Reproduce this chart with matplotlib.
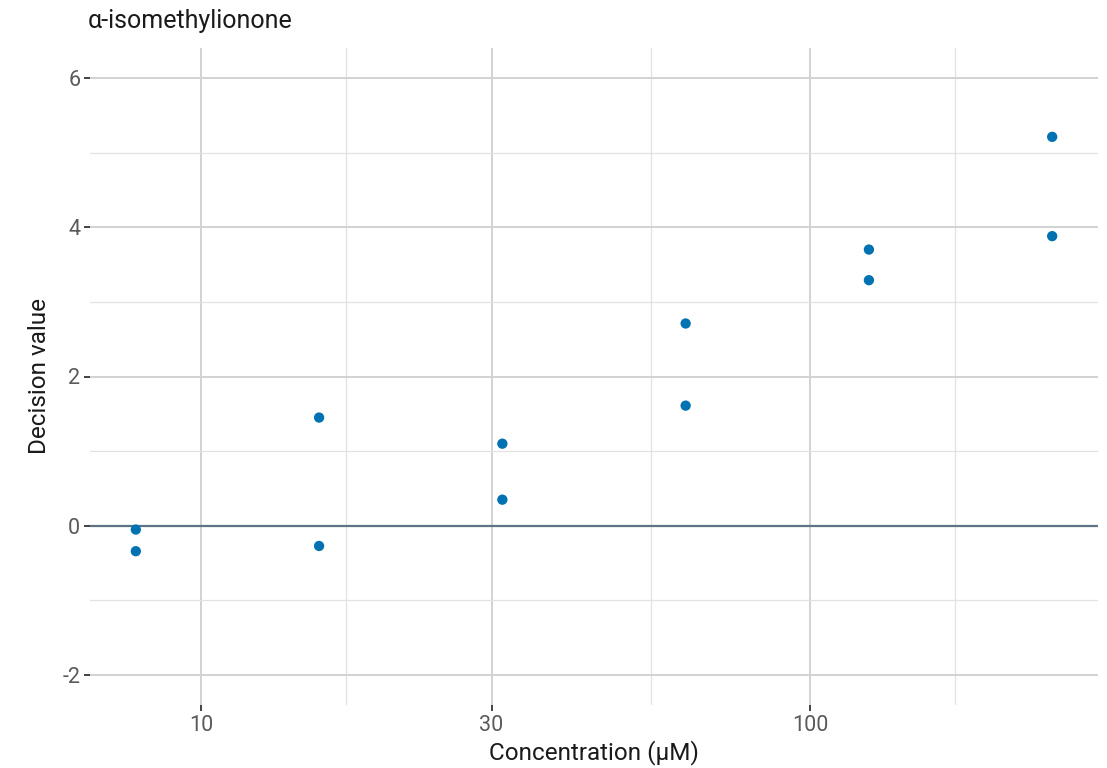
import matplotlib
matplotlib.use("Agg")
import matplotlib.pyplot as plt
from matplotlib.ticker import FixedLocator, NullFormatter
import numpy as np

plt.rcParams['font.family'] = ['Roboto', 'DejaVu Sans']

title = "α-isomethylionone"
concentration = [7.8125, 7.8125, 15.625, 15.625, 31.25, 31.25, 62.5, 62.5, 125, 125, 250, 250]
decision_value = [-0.05, -0.34, 1.45, -0.27, 1.10, 0.35, 2.71, 1.61, 3.70, 3.29, 5.21, 3.88]
x_major = [10, 30, 100]
x_major_labels = ["10", "30", "100"]
x_minor = [np.sqrt(300), np.sqrt(3000), np.sqrt(30000)]
y_major = [-2, 0, 2, 4, 6]
y_minor = [-1, 1, 3, 5]

fig = plt.figure(figsize=(11.07, 7.68), dpi=100)
ax = fig.add_axes([90/1107, 1-705/768, (1098-90)/1107, (705-48)/768])

ax.set_xscale('log')
lo, hi = np.log10(min(concentration)), np.log10(max(concentration))
pad = (hi - lo) * 0.05
ax.set_xlim(10**(lo - pad), 10**(hi + pad))
ax.set_ylim(-2.4, 6.4)

ax.xaxis.set_major_locator(FixedLocator(x_major))
ax.set_xticklabels(x_major_labels)
ax.xaxis.set_minor_locator(FixedLocator(x_minor))
ax.xaxis.set_minor_formatter(NullFormatter())
ax.yaxis.set_major_locator(FixedLocator(y_major))
ax.set_yticklabels([str(v) for v in y_major])
ax.yaxis.set_minor_locator(FixedLocator(y_minor))

ax.grid(which='major', color='#d2d2d2', linewidth=1.4)
ax.grid(which='minor', color='#e2e2e2', linewidth=0.9)
ax.set_axisbelow(True)
for s in ax.spines.values():
    s.set_visible(False)

ax.tick_params(which='major', length=4, width=1.3, color='#333333', labelcolor='#5a5a5a', labelsize=15.5, pad=3)
ax.tick_params(which='minor', length=0)

ax.axhline(0, color='#5f7388', linewidth=1.6, zorder=2)
ax.scatter(concentration, decision_value, s=55, color='#0072B2', edgecolors='none', zorder=3)

ax.set_xlabel("Concentration (μM)", fontsize=17.5, color='#1a1a1a', labelpad=3)
ax.set_ylabel("Decision value", fontsize=17.5, color='#1a1a1a', labelpad=8)
fig.text(88/1107, 1-21/768, title, fontsize=18, color='#1a1a1a', va='center', ha='left')

fig.savefig("out.png", dpi=100, facecolor='white')
